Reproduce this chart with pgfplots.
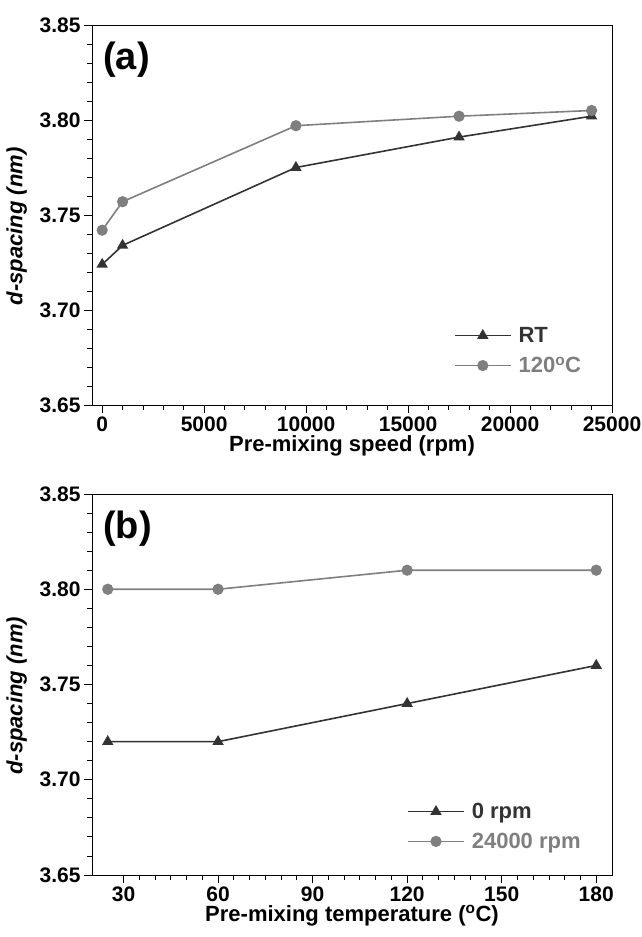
\documentclass[border=0pt]{standalone}
\usepackage{fontspec}
\setmainfont{Liberation Sans}
\usepackage{pgfplots}
\pgfplotsset{compat=1.18}

\definecolor{darkser}{HTML}{333333}
\definecolor{lightser}{HTML}{7F7F7F}

\pgfplotsset{
  panel/.style={
    scale only axis,
    width=520pt, height=380pt,
    ymin=3.65, ymax=3.85,
    ytick={3.65,3.70,...,3.86},
    minor y tick num=4,
    tick align=outside,
    xtick pos=left, ytick pos=left,
    major tick length=8pt, minor tick length=5pt,
    axis line style={line width=0.9pt},
    every tick/.style={line width=0.9pt, black},
    /pgf/number format/assume math mode=true,
    yticklabel style={/pgf/number format/fixed, /pgf/number format/fixed zerofill, /pgf/number format/precision=2},
    tick label style={font=\fontsize{21}{21}\selectfont\bfseries},
    label style={font=\fontsize{22}{24}\selectfont\bfseries},
    ylabel style={at={(axis description cs:-0.145,0.47)}, anchor=center},
    xlabel style={yshift=3pt},
    ylabel={\itshape d-spacing (nm)},
    legend style={draw=none, fill=none, anchor=south west,
      font=\fontsize{22}{24}\selectfont\bfseries, row sep=9pt,
      legend cell align=left, nodes={inner xsep=7pt}},
    legend image code/.code={\draw[mark repeat=2,mark phase=2,#1] plot coordinates {(0pt,0pt) (28pt,0pt) (56pt,0pt)};},
  },
  ser1/.style={color=darkser, line width=1.6pt, mark=triangle*, mark size=5pt, mark options={solid, fill=darkser}},
  ser2/.style={color=lightser, line width=1.6pt, mark=*, mark size=4.8pt, mark options={solid, fill=lightser}},
}

\begin{document}
\begin{tikzpicture}
\useasboundingbox (-92pt,-532pt) rectangle (549pt,405pt);

% (a) effect of pre-mixing speed
\begin{axis}[panel,
  at={(0pt,0pt)}, anchor=south west,
  xmin=-500, xmax=25000,
  xtick={0,5000,...,25000},
  minor x tick num=4,
  scaled x ticks=false,
  xticklabel style={/pgf/number format/1000 sep={}},
  xlabel={Pre-mixing speed (rpm)},
  legend style={at={(0.69,0.07)}},
]
\addplot[ser1] coordinates {
  (0, 3.724) (1000, 3.734) (9500, 3.775) (17500, 3.791) (24000, 3.802)
};
\addlegendentry{\textcolor{darkser}{RT}}
\addplot[ser2] coordinates {
  (0, 3.742) (1000, 3.757) (9500, 3.797) (17500, 3.802) (24000, 3.805)
};
\addlegendentry{\textcolor{lightser}{120\textsuperscript{o}C}}
\node[anchor=north west, font=\fontsize{38}{38}\selectfont\bfseries] at (rel axis cs:0.015,0.965) {(a)};
\end{axis}

% (b) effect of pre-mixing temperature
\begin{axis}[panel,
  at={(0pt,-470pt)}, anchor=south west,
  height=381pt,
  xmin=20, xmax=185,
  xtick={30,60,...,180},
  minor x tick num=5,
  xlabel={Pre-mixing temperature (\textsuperscript{o}C)},
  legend style={at={(0.6,0.055)}},
]
\addplot[ser1] coordinates {
  (25, 3.72) (60, 3.72) (120, 3.74) (180, 3.76)
};
\addlegendentry{\textcolor{darkser}{0 rpm}}
\addplot[ser2] coordinates {
  (25, 3.80) (60, 3.80) (120, 3.81) (180, 3.81)
};
\addlegendentry{\textcolor{lightser}{24000 rpm}}
\node[anchor=north west, font=\fontsize{38}{38}\selectfont\bfseries] at (rel axis cs:0.015,0.965) {(b)};
\end{axis}
\end{tikzpicture}
\end{document}
